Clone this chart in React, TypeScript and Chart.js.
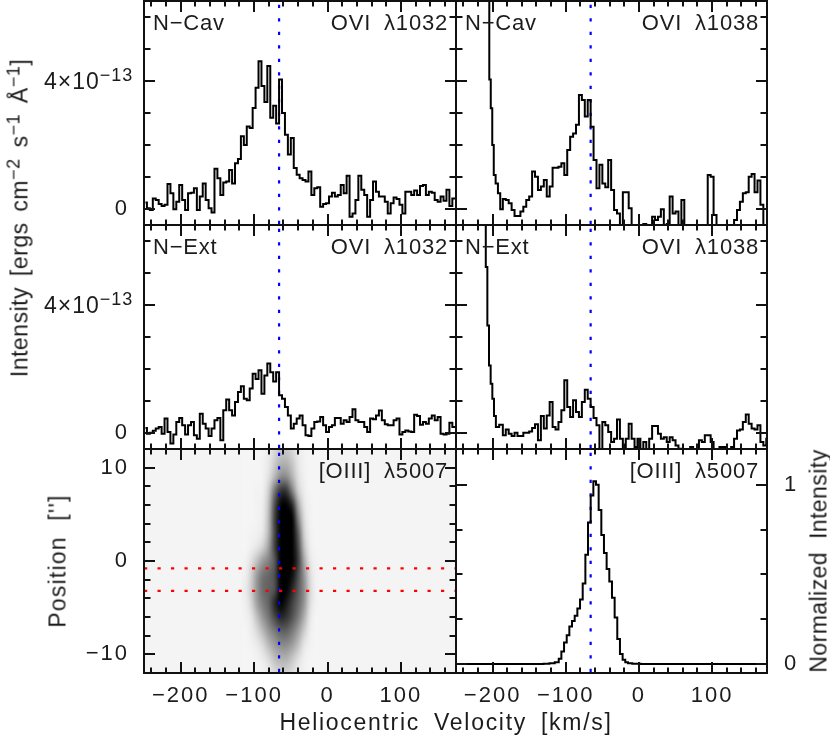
import React, { useEffect, useRef } from "react";
import { Chart, registerables } from "chart.js";

Chart.register(...registerables);

// Velocity bins (km/s) of the far-UV spectra
const velocityBins = [-248,-244,-240,-236,-232,-228,-224,-220,-216,-212,-208,-204,-200,-196,-192,-188,-184,-180,-176,-172,-168,-164,-160,-156,-152,-148,-144,-140,-136,-132,-128,-124,-120,-116,-112,-108,-104,-100,-96,-92,-88,-84,-80,-76,-72,-68,-64,-60,-56,-52,-48,-44,-40,-36,-32,-28,-24,-20,-16,-12,-8,-4,0,4,8,12,16,20,24,28,32,36,40,44,48,52,56,60,64,68,72,76,80,84,88,92,96,100,104,108,112,116,120,124,128,132,136,140,144,148,152,156,160,164,168,172,176];
const velocityTail = [-184,-180,-176,-172,-168,-164,-160,-156,-152,-148,-144,-140,-136,-132,-128,-124,-120,-116,-112,-108,-104,-100,-96,-92,-88,-84,-80,-76,-72,-68,-64,-60,-56,-52,-48,-44,-40,-36,-32,-28,-24,-20,-16,-12,-8,-4,0,4,8,12,16,20,24,28,32,36,40,44,48,52,56,60,64,68,72,76,80,84,88,92,96,100,104,108,112,116,120,124,128,132,136,140,144,148,152,156,160,164,168,172,176];

// Intensities, in units of 1e-13 ergs cm-2 s-1 A-1
const cav1032 = [.2,.02,-.03,.33,.28,.16,.09,.13,.78,.49,-.01,.23,.75,.28,-.03,.49,.51,.65,-.03,.39,.8,.28,.02,-.11,1.26,.96,.44,.83,.86,1.22,.8,1.43,1.56,2.27,2.0,2.58,2.53,3.16,3.79,4.62,3.84,3.34,4.47,2.85,3.23,2.67,4.05,3.0,2.32,1.7,2.22,1.28,1.07,.96,.91,.86,1.17,.44,.65,.68,.07,.16,.18,.39,.51,.39,.44,.75,.49,1.04,-.24,-.14,.28,1.04,.6,.44,-.24,.28,.86,.54,.39,.39,.23,-.14,.18,.36,.31,.13,-.14,.54,.54,.44,.58,.44,.72,.75,.44,.54,.51,.28,.23,.39,.26,.6,.09,.33,.33];
const ext1032 = [.16,-.02,.01,.07,.14,.19,-.02,.45,.03,-.33,-.05,.34,.47,.24,-.05,.24,.34,-.07,-.18,.6,.29,.14,-.09,.14,.4,.47,-.23,.71,1.05,.71,.55,.97,1.28,1.46,1.07,1.02,1.39,1.85,1.69,1.96,1.23,1.8,2.17,1.9,1.61,1.9,1.18,1.07,.81,.55,.14,.29,.45,.55,.24,-.07,-.09,.14,.34,.36,.5,.24,.03,.19,.24,.47,.47,.29,.4,.34,.5,.74,.4,.34,.34,.19,.03,.45,.43,.55,.7,.4,.27,.24,.24,.4,.45,-.05,.03,.08,.05,.03,.57,.53,.26,.34,.29,.45,.55,.4,.5,-.02,-.05,-.02,.32,.19,.19];

const cav1038Head = [-250,-205.5,-203.5,-201.5,-199.4,-197.4,-194.3,-191.1,-188];
const cav1038HeadValues = [9,9,4.05,3.15,2.0,1.06,.8,.49,-.01];
const cav1038Tail = [.31,.28,.18,-.03,-.22,-.22,-.08,.07,.28,.39,1.17,1.01,.59,.7,.91,.39,.7,1.29,1.29,1.32,1.43,1.06,1.84,2.26,2.36,2.63,3.56,3.41,2.89,3.41,2.57,1.53,.65,1.38,.8,.68,1.53,.59,-.03,-.14,-.66,.52,.52,.02,-.76,-.76,-.76,-.55,-.47,-.76,-.55,-.24,-.34,-.24,-.01,-.76,-.47,.39,-.14,-.08,-.55,.28,-.76,-.76,-.76,-.76,-.76,-.76,-.76,-.76,1.06,1.01,-.19,-.76,-.76,-.76,-.76,-.76,-.76,-.34,-.03,.23,.49,.52,1.01,1.09,.52,.89,.13,-.76,-.76];

const ext1038Head = [-250,-210.3,-208.3,-206,-203.8,-201.5,-199.2,-197,-194,-188];
const ext1038HeadValues = [9,9,5.19,3.36,2.11,1.54,1.07,.53,.19,.26];
const ext1038Tail = [-.07,.11,-.02,-.09,.01,-.09,-.09,.01,.01,.05,.16,.27,-.23,.53,.14,.55,.97,.19,.11,.34,.71,1.65,.81,.5,1.02,.66,.5,.97,1.35,1.07,.81,.47,.24,-.51,.34,.24,.03,-.28,-.18,.42,-.18,-.51,-.18,.29,-.18,-.44,-.18,-.51,-.28,-.7,-.18,.22,.22,-.02,-.18,-.13,-.28,-.13,-.23,-.39,-.49,-.7,-.7,-.7,-.44,-.7,-.7,-.23,-.28,-.07,-.07,-.28,-.7,-.7,-.44,-.44,-.7,-.7,-.44,-.18,.08,.11,.34,.58,.29,.14,.11,.24,-.28,-.39,-.18];

// [OIII] 5007 normalized profile
const oiiiVelocity = [-250,-200,-160,-135,-126,-118.7,-111.4,-107.8,-104.2,-100.5,-96.9,-93.3,-89.6,-86,-82.3,-78.7,-75,-71.4,-67.8,-64.1,-60.5,-56.9,-53.2,-49.6,-46,-42.3,-38.7,-35,-31.4,-27.8,-24.1,-20.5,-16.9,-13.2,-5,10,60,120,175];
const oiiiIntensity = [0,0,0,0,.002,.004,.01,.03,.07,.12,.16,.21,.24,.27,.31,.36,.45,.61,.79,.94,1.02,1.0,.86,.72,.62,.53,.46,.37,.26,.14,.056,.024,.01,.004,.002,0,0,0,0];

// Position-velocity image: darkness in percent, rows by position, columns by velocity
const imageVelocity = [-112,-104,-96,-88,-80,-72,-64,-56,-48,-40,-32,-24,-16];
const imagePosition = [12,10.5,9,7.5,6,4.5,3,1.5,0,-1.5,-3,-4.5,-6,-7.5,-9,-10.5,-12];
const imageDarkness = [
  [4,4,4,4,8,15,22,22,16,8,5,4,4],
  [4,4,4,5,9,20,30,30,22,10,5,4,4],
  [4,4,4,5,12,28,45,45,30,12,6,4,4],
  [4,4,5,6,20,55,80,80,50,18,7,4,4],
  [4,4,5,7,25,70,98,100,85,35,10,5,4],
  [4,4,5,8,28,75,100,100,100,50,14,5,4],
  [4,5,6,10,30,72,100,100,100,65,18,6,4],
  [4,6,10,18,38,75,100,100,100,72,25,7,4],
  [5,12,25,40,50,65,100,100,100,78,35,10,5],
  [6,18,40,55,60,70,100,100,95,70,42,14,5],
  [7,20,42,58,62,68,100,100,85,65,45,16,5],
  [6,16,38,52,62,85,100,90,75,60,42,14,5],
  [5,10,25,42,55,72,85,80,68,52,32,10,4],
  [4,7,15,28,42,52,62,62,52,38,20,7,4],
  [4,5,8,15,28,38,45,45,38,25,10,5,4],
  [4,4,5,8,14,25,30,30,22,12,6,4,4],
  [4,4,4,5,8,14,18,18,14,8,5,4,4],
];

const referenceVelocity = -66;
const slitPositions = [-0.8, -3.2];

const velocityMajorTicks = [-200, -100, 0, 100];
const intensityTicks = [0, 1, 2, 3, 4, 5, 6];
const intensityMajorTicks = [0, 4];
const positionTicks = [-10, -8, -6, -4, -2, 0, 2, 4, 6, 8, 10];
const positionMajorTicks = [-10, 0, 10];
const profileTicks = [0, 0.25, 0.5, 0.75, 1];
const profileMajorTicks = [0, 1];

const FONT = '"Liberation Sans", Arial, sans-serif';
const PANEL_SIZE = 22;
const TICK_SIZE = 22;
const TITLE_SIZE = 23;
const INK = "#1c1c1c";

const minusFmt = (v: number) => (v < 0 ? "\u2212" + Math.abs(v) : String(v));

type Spec = {
  x0: number; y0: number; x1: number; y1: number;
  ml: number; mr: number; mt: number; mb: number;
  yMin: number; yMax: number; yTicks: number[]; yMajor: number[];
  yLabels: number[]; xLabels: boolean; yRight?: boolean;
  xs?: number[]; ys?: number[];
  left?: string; right: string;
  image?: boolean;
};

const LEFT = [144, 456];
const RIGHT = [456, 767];

const specs: Spec[] = [
  { x0: LEFT[0], x1: LEFT[1], y0: 1, y1: 225, ml: 144, mr: 4, mt: 1, mb: 4, yMin: -0.5, yMax: 6.5, yTicks: intensityTicks, yMajor: intensityMajorTicks, yLabels: [0], xLabels: false, xs: velocityBins, ys: cav1032, left: "N\u2212Cav", right: "OVI \u03bb1032" },
  { x0: RIGHT[0], x1: RIGHT[1], y0: 1, y1: 225, ml: 4, mr: 4, mt: 1, mb: 4, yMin: -0.5, yMax: 6.5, yTicks: intensityTicks, yMajor: intensityMajorTicks, yLabels: [], xLabels: false, xs: [...cav1038Head, ...velocityTail], ys: [...cav1038HeadValues, ...cav1038Tail], left: "N\u2212Cav", right: "OVI \u03bb1038" },
  { x0: LEFT[0], x1: LEFT[1], y0: 225, y1: 449, ml: 144, mr: 4, mt: 4, mb: 4, yMin: -0.5, yMax: 6.5, yTicks: intensityTicks, yMajor: intensityMajorTicks, yLabels: [0], xLabels: false, xs: velocityBins, ys: ext1032, left: "N\u2212Ext", right: "OVI \u03bb1032" },
  { x0: RIGHT[0], x1: RIGHT[1], y0: 225, y1: 449, ml: 4, mr: 4, mt: 4, mb: 4, yMin: -0.5, yMax: 6.5, yTicks: intensityTicks, yMajor: intensityMajorTicks, yLabels: [], xLabels: false, xs: [...ext1038Head, ...velocityTail], ys: [...ext1038HeadValues, ...ext1038Tail], left: "N\u2212Ext", right: "OVI \u03bb1038" },
  { x0: LEFT[0], x1: LEFT[1], y0: 449, y1: 673, ml: 144, mr: 4, mt: 4, mb: 40, yMin: -12, yMax: 12, yTicks: positionTicks, yMajor: positionMajorTicks, yLabels: positionMajorTicks, xLabels: true, right: "[OIII] \u03bb5007", image: true },
  { x0: RIGHT[0], x1: RIGHT[1], y0: 449, y1: 673, ml: 4, mr: 60, mt: 4, mb: 40, yMin: -0.05, yMax: 1.2, yTicks: profileTicks, yMajor: profileMajorTicks, yLabels: profileMajorTicks, yRight: true, xLabels: true, xs: oiiiVelocity, ys: oiiiIntensity, right: "[OIII] \u03bb5007" },
];

function pairs(xs: number[], ys: number[]) {
  return xs.map((x, i) => ({ x, y: ys[i] }));
}

function makeChart(canvas: HTMLCanvasElement, s: Spec) {
  const zeroPad = (scale: any) => {
    scale.paddingLeft = scale.paddingRight = scale.paddingTop = scale.paddingBottom = 0;
  };
  const frame = {
    id: "frame",
    beforeDraw(chart: any) {
      chart.ctx.letterSpacing = "2px";
    },
    beforeDatasetsDraw(chart: any) {
      if (!s.image) return;
      const { ctx, chartArea: a, scales } = chart;
      ctx.save();
      ctx.fillStyle = "#f4f4f4";
      ctx.fillRect(a.left, a.top, a.width, a.height);
      const off = document.createElement("canvas");
      off.width = imageVelocity.length;
      off.height = imagePosition.length;
      const o = off.getContext("2d")!;
      imageDarkness.forEach((row, r) =>
        row.forEach((d, c) => {
          const g = Math.round(255 * (1 - d / 100));
          o.fillStyle = `rgb(${g},${g},${g})`;
          o.fillRect(c, r, 1, 1);
        })
      );
      const dv = 4;
      const dp = 0.75;
      const l = scales.x.getPixelForValue(imageVelocity[0] - dv);
      const r = scales.x.getPixelForValue(imageVelocity[imageVelocity.length - 1] + dv);
      const t = scales.y.getPixelForValue(imagePosition[0] + dp);
      const b = scales.y.getPixelForValue(imagePosition[imagePosition.length - 1] - dp);
      ctx.beginPath();
      ctx.rect(a.left, a.top, a.width, a.height);
      ctx.clip();
      ctx.imageSmoothingEnabled = true;
      ctx.imageSmoothingQuality = "high";
      ctx.drawImage(off, l, t, r - l, b - t);
      ctx.restore();
    },
    afterDatasetsDraw(chart: any) {
      const { ctx, chartArea: a, scales } = chart;
      ctx.save();
      ctx.strokeStyle = "#111";
      ctx.lineWidth = 2;
      ctx.lineCap = "butt";
      ctx.beginPath();
      for (const t of scales.x.ticks) {
        const p = Math.round(scales.x.getPixelForValue(t.value));
        const len = velocityMajorTicks.includes(t.value) ? 11 : 5.5;
        ctx.moveTo(p, a.top); ctx.lineTo(p, a.top + len);
        ctx.moveTo(p, a.bottom); ctx.lineTo(p, a.bottom - len);
      }
      for (const t of scales.y.ticks) {
        const p = Math.round(scales.y.getPixelForValue(t.value));
        const len = s.yMajor.includes(t.value) ? 11 : 6.5;
        ctx.moveTo(a.left, p); ctx.lineTo(a.left + len, p);
        ctx.moveTo(a.right, p); ctx.lineTo(a.right - len, p);
      }
      ctx.stroke();
      ctx.strokeRect(a.left, a.top, a.width, a.height);
      ctx.fillStyle = INK;
      ctx.font = `${PANEL_SIZE}px ${FONT}`;
      ctx.letterSpacing = "0.8px";
      ctx.wordSpacing = "6px";
      ctx.textBaseline = "middle";
      if (s.left) {
        ctx.textAlign = "left";
        ctx.fillText(s.left, a.left + 9, a.top + 23);
      }
      ctx.textAlign = "right";
      ctx.fillText(s.right, a.right - 8, a.top + 23);
      ctx.restore();
    },
  };

  const datasets: any[] = [
    {
      data: [{ x: referenceVelocity, y: s.yMin }, { x: referenceVelocity, y: s.yMax }],
      borderColor: "#0000ff", borderWidth: 2.2, borderDash: [3.2, 10.3], borderDashOffset: 12.5,
      pointRadius: 0, order: 2,
    },
  ];
  if (s.xs && s.ys) {
    datasets.push({
      data: pairs(s.xs, s.ys), borderColor: "#000", borderWidth: 2, stepped: "middle",
      pointRadius: 0, order: 1, borderJoinStyle: "miter",
    });
  }
  if (s.image) {
    for (const p of slitPositions) {
      datasets.push({
        data: [{ x: -250, y: p }, { x: 175, y: p }],
        borderColor: "#ff0000", borderWidth: 2.2, borderDash: [3.2, 10.3],
        pointRadius: 0, order: 0,
      });
    }
  }
  const isRight = !!s.yRight;

  return new Chart(canvas, {
    type: "line",
    data: { datasets },
    options: {
      animation: false,
      responsive: false,
      layout: { padding: { left: isRight ? s.ml : 0, right: isRight ? 0 : s.mr, top: s.mt, bottom: 0 } },
      plugins: { legend: { display: false }, title: { display: false }, tooltip: { enabled: false } },
      scales: {
        x: {
          type: "linear", min: -250, max: 175,
          grid: { display: false, drawTicks: false }, border: { display: false },
          afterFit: (scale: any) => { scale.height = s.mb; zeroPad(scale); },
          ticks: {
            stepSize: 20, includeBounds: false, autoSkip: false, maxRotation: 0, minRotation: 0, padding: 10,
            color: INK, font: { family: FONT, size: TICK_SIZE },
            callback: (v: any) => (s.xLabels && velocityMajorTicks.includes(Number(v)) ? minusFmt(Number(v)) : ""),
          },
        },
        y: {
          type: "linear", min: s.yMin, max: s.yMax, position: isRight ? "right" : "left",
          grid: { display: false, drawTicks: false }, border: { display: false },
          afterBuildTicks: (scale: any) => { scale.ticks = s.yTicks.map((value) => ({ value })); },
          afterFit: (scale: any) => { scale.width = isRight ? s.mr : s.ml; zeroPad(scale); },
          ticks: {
            autoSkip: false, maxRotation: 0, minRotation: 0, padding: isRight ? 17 : 15,
            color: INK, font: { family: FONT, size: TICK_SIZE },
            callback: (v: any) => (s.yLabels.includes(Number(v)) ? minusFmt(Number(v)) : ""),
          },
        },
      },
    } as any,
    plugins: [frame],
  });
}

const textBase: React.CSSProperties = {
  position: "absolute",
  fontFamily: FONT,
  fontSize: TITLE_SIZE,
  color: INK,
  whiteSpace: "nowrap",
  lineHeight: 1,
};

function Sup({ children }: { children: React.ReactNode }) {
  return <span style={{ fontSize: 18, position: "relative", top: -8 }}>{children}</span>;
}

export default function App() {
  const refs = useRef<(HTMLCanvasElement | null)[]>([]);
  useEffect(() => {
    const charts = specs.map((s, i) => makeChart(refs.current[i]!, s));
    return () => charts.forEach((c) => c.destroy());
  }, []);
  return (
    <div style={{ position: "absolute", left: 0, top: 0, width: 830, height: 736, overflow: "hidden", background: "#fff" }}>
      {specs.map((s, i) => {
        const left = s.x0 - s.ml;
        const top = s.y0 - s.mt;
        return (
          <canvas
            key={i}
            ref={(el) => { refs.current[i] = el; }}
            width={s.x1 - s.x0 + s.ml + s.mr}
            height={s.y1 - s.y0 + s.mt + s.mb}
            style={{ position: "absolute", left, top, display: "block" }}
          />
        );
      })}
      <div style={{ ...textBase, left: 44, top: 70, letterSpacing: "1px" }}>4×10<Sup>{"\u2212"}13</Sup></div>
      <div style={{ ...textBase, left: 44, top: 294, letterSpacing: "1px" }}>4×10<Sup>{"\u2212"}13</Sup></div>
      <div style={{ ...textBase, left: 20, top: 218, letterSpacing: "0.5px", wordSpacing: "4px", transform: "translate(-50%,-50%) rotate(-90deg)" }}>
        Intensity [ergs cm<Sup>{"\u2212"}2</Sup> s<Sup>{"\u2212"}1</Sup> Å<Sup>{"\u2212"}1</Sup>]
      </div>
      <div style={{ ...textBase, left: 58, top: 561, letterSpacing: "1.2px", wordSpacing: "8px", transform: "translate(-50%,-50%) rotate(-90deg)" }}>Position ['']</div>
      <div style={{ ...textBase, left: 819, top: 561, letterSpacing: "0.45px", wordSpacing: "6px", transform: "translate(-50%,-50%) rotate(-90deg)" }}>Normalized Intensity</div>
      <div style={{ ...textBase, left: 446, top: 722, letterSpacing: "1.7px", wordSpacing: "6px", transform: "translate(-50%,-50%)" }}>Heliocentric Velocity [km/s]</div>
    </div>
  );
}
